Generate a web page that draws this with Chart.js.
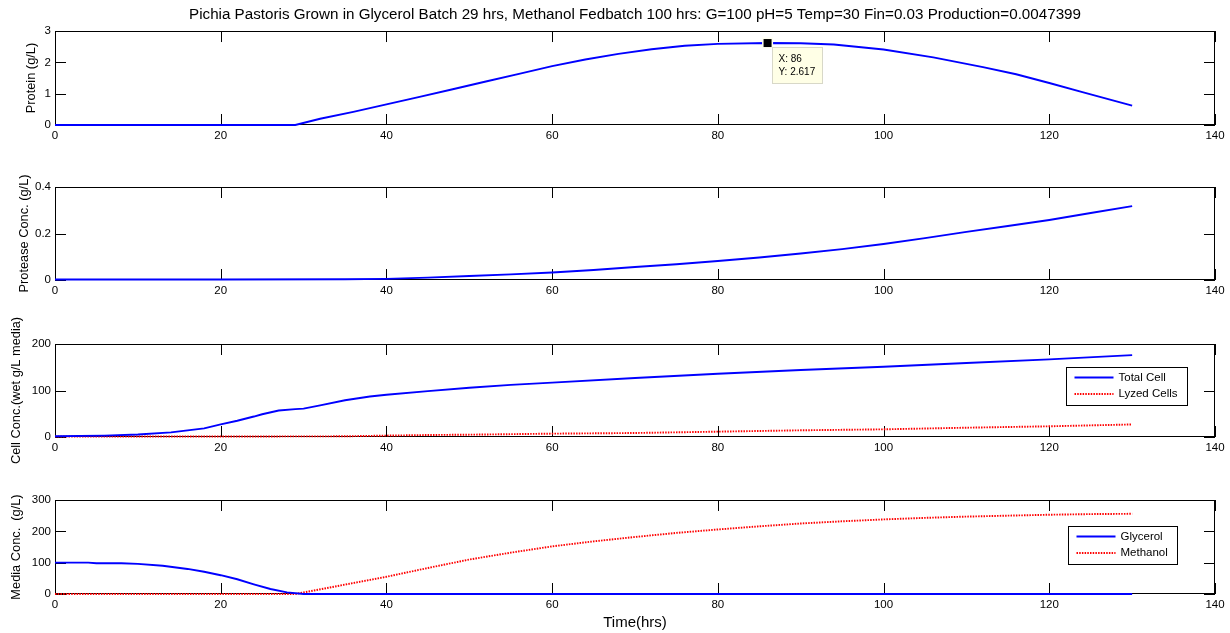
<!DOCTYPE html>
<html><head><meta charset="utf-8">
<script src="https://cdn.jsdelivr.net/npm/chart.js@4.4.0/dist/chart.umd.min.js"></script>
<style>
html,body{margin:0;padding:0;background:#fff;}
#wrap{position:relative;width:1230px;height:633px;overflow:hidden;background:#fff;}
#wrap canvas{position:absolute;left:0;}
</style></head><body><div id="wrap"></div>
<script>
// ---------------- data ----------------
const chartTitle = 'Pichia Pastoris Grown in Glycerol Batch 29 hrs, Methanol Fedbatch 100 hrs: G=100 pH=5 Temp=30 Fin=0.03 Production=0.0047399';
const xTicksMin = 0, xTicksMax = 140, xTickStep = 20;

const proteinTime = [0, 29, 32, 36, 40, 44, 48, 52, 56, 60, 64, 68, 72, 76, 80, 86, 90, 94, 100, 106, 112, 116, 120, 124, 128, 130];
const proteinConc = [0, 0, 0.2, 0.42, 0.66, 0.9, 1.14, 1.39, 1.63, 1.88, 2.09, 2.27, 2.42, 2.53, 2.59, 2.617, 2.61, 2.57, 2.41, 2.16, 1.85, 1.62, 1.34, 1.05, 0.76, 0.62];
const tipX = 86, tipY = 2.617;

const proteaseTime = [0, 20, 35, 40, 45, 50, 55, 60, 65, 70, 75, 80, 85, 90, 95, 100, 105, 110, 115, 120, 125, 130];
const proteaseConc = [0.002, 0.002, 0.003, 0.005, 0.01, 0.017, 0.024, 0.032, 0.043, 0.056, 0.068, 0.082, 0.097, 0.114, 0.133, 0.155, 0.18, 0.207, 0.232, 0.258, 0.288, 0.318];

const totalCellTime = [0, 6, 10, 14, 18, 20, 22, 24, 25, 27, 29, 30, 32, 35, 38, 40, 45, 50, 55, 60, 70, 80, 90, 100, 110, 120, 130];
const totalCell = [1.5, 3, 5.5, 10, 18.5, 27, 35, 44, 49, 57, 60, 61, 68, 79, 87, 91, 98.6, 106, 112, 117, 127, 136, 144, 151, 159, 167, 176];
const lyzedTime = [0, 20, 35, 40, 45, 50, 60, 70, 80, 90, 100, 110, 120, 130];
const lyzedCells = [1, 1, 1.5, 3, 4.3, 5, 7.2, 8.6, 11.5, 14.4, 16.5, 20, 23, 27];

const glycerolTime = [0, 4, 5, 8, 10, 13, 16, 18, 20, 22, 24, 26, 28, 30, 130];
const glycerol = [100, 100, 98, 98, 96, 90, 80, 71, 60, 47, 31, 16, 5, 0, 0];
const methanolTime = [0, 29, 35, 40, 45, 50, 55, 60, 65, 70, 75, 80, 85, 90, 95, 100, 105, 110, 115, 120, 125, 130];
const methanol = [0, 0, 30, 55, 83, 110, 132, 152, 168, 182, 195, 206, 216, 225, 232, 238, 243, 247, 250, 253, 255, 256];

// ---------------- setup ----------------
Chart.defaults.font.family = '"Liberation Sans", Arial, sans-serif';
Chart.defaults.font.size = 11.5;
Chart.defaults.color = '#000';

const PLOT_LEFT = 55, PLOT_RIGHT = 1215, GAP = 31;
function pts(xs, ys) { return xs.map((x, i) => ({x: x, y: ys[i]})); }

const matlabAxes = {
  id: 'matlabAxes',
  beforeDatasetsDraw(chart) {
    const {ctx, chartArea: a, scales: {x, y}} = chart;
    const L = 11;
    ctx.save();
    ctx.strokeStyle = '#000';
    ctx.lineWidth = 1;
    ctx.beginPath();
    x.ticks.forEach(t => {
      const px = Math.round(x.getPixelForValue(t.value)) + 0.5;
      ctx.moveTo(px, a.bottom); ctx.lineTo(px, a.bottom - L);
      ctx.moveTo(px, a.top); ctx.lineTo(px, a.top + L);
    });
    y.ticks.forEach(t => {
      const py = Math.round(y.getPixelForValue(t.value)) + 0.5;
      ctx.moveTo(a.left, py); ctx.lineTo(a.left + L, py);
      ctx.moveTo(a.right, py); ctx.lineTo(a.right - L, py);
    });
    ctx.stroke();
    ctx.strokeRect(Math.round(a.left) + 0.5, Math.round(a.top) + 0.5, Math.round(a.right - a.left) - 1, Math.round(a.bottom - a.top) - 1);
    ctx.restore();
  }
};

const inLegend = {
  id: 'inLegend',
  afterDraw(chart, args, opts) {
    if (!opts || !opts.show) return;
    const {ctx, chartArea: a} = chart;
    const ds = chart.data.datasets;
    ctx.save();
    ctx.font = '11.5px "Liberation Sans", Arial, sans-serif';
    let tw = 0;
    ds.forEach(d => { tw = Math.max(tw, ctx.measureText(d.label).width); });
    const w = 8 + 39 + 5 + tw + 10, h = 38;
    const left = Math.round(a.right - opts.right - w) + 0.5, top = Math.round(a.top + opts.top) + 0.5;
    ctx.fillStyle = '#fff';
    ctx.fillRect(left, top, w, h);
    ctx.strokeStyle = '#000'; ctx.lineWidth = 1;
    ctx.strokeRect(left, top, Math.round(w), h);
    ds.forEach((d, i) => {
      const yy = top + 10 + i * 16.5;
      ctx.beginPath();
      ctx.strokeStyle = d.borderColor; ctx.lineWidth = d.borderWidth;
      ctx.setLineDash(d.borderDash || []);
      ctx.moveTo(left + 8, yy); ctx.lineTo(left + 47, yy);
      ctx.stroke();
      ctx.setLineDash([]);
      ctx.fillStyle = '#000';
      ctx.textBaseline = 'middle';
      ctx.fillText(d.label, left + 52, yy);
    });
    ctx.restore();
  }
};

const dataTip = {
  id: 'dataTip',
  afterDatasetsDraw(chart, args, opts) {
    if (!opts || !opts.show) return;
    const {ctx, scales: {x, y}} = chart;
    const px = x.getPixelForValue(opts.x), py = y.getPixelForValue(opts.y);
    ctx.save();
    ctx.fillStyle = '#fffff0';
    ctx.fillRect(px - 5.5, py - 5.5, 11, 11);
    ctx.fillStyle = '#000';
    ctx.fillRect(px - 4, py - 4, 8, 8);
    const bx = Math.round(px + 4) + 0.5, by = Math.round(py + 4) + 0.5;
    ctx.fillStyle = '#ffffe6';
    ctx.fillRect(bx, by, 50, 36);
    ctx.strokeStyle = '#d8d8c8'; ctx.lineWidth = 1;
    ctx.strokeRect(bx, by, 50, 36);
    ctx.fillStyle = '#000';
    ctx.font = '10px "Liberation Sans", Arial, sans-serif';
    ctx.textBaseline = 'middle';
    ctx.fillText('X: ' + opts.x, bx + 6, by + 11.5);
    ctx.fillText('Y: ' + opts.y, bx + 6, by + 24.5);
    ctx.restore();
  }
};

const wrap = document.getElementById('wrap');

function makePanel(p) {
  const plotH = p.bottom - p.top;
  const xAxisH = p.xTitle ? 40 : 20;
  const H = GAP + plotH + xAxisH + (p.xTitle ? 0 : 20);
  const cv = document.createElement('canvas');
  cv.width = 1230; cv.height = H;
  cv.style.top = (p.top - GAP) + 'px';
  wrap.appendChild(cv);
  p.datasets.forEach(d => { d.clip = 4; });
  return new Chart(cv, {
    type: 'line',
    data: {datasets: p.datasets},
    options: {
      responsive: false, animation: false, devicePixelRatio: 1,
      layout: {padding: {left: 0, right: 1230 - PLOT_RIGHT, top: p.title ? 0 : GAP, bottom: H - GAP - plotH - xAxisH}},
      elements: {point: {radius: 0}, line: {tension: 0}},
      plugins: {
        legend: {display: false},
        tooltip: {enabled: false},
        title: p.title ? {display: true, text: p.title, fullSize: false, color: '#000',
          font: {size: 15.2, weight: 'normal'}, padding: {top: 6, bottom: 6.8}} : {display: false},
        inLegend: p.legend || {show: false},
        dataTip: p.tip || {show: false}
      },
      scales: {
        x: {
          type: 'linear', min: xTicksMin, max: xTicksMax,
          grid: {display: false, drawTicks: false}, border: {display: false},
          ticks: {stepSize: xTickStep, padding: 4, maxRotation: 0, autoSkip: false, font: {size: 11.5}},
          title: p.xTitle ? {display: true, text: p.xTitle, font: {size: 15}, padding: {top: 0, bottom: 2.5}} : {display: false},
          afterFit(s) { s.height = xAxisH; }
        },
        y: {
          type: 'linear', min: p.yMin, max: p.yMax,
          grid: {display: false, drawTicks: false}, border: {display: false},
          ticks: {stepSize: p.yStep, padding: 4, font: {size: 11.5}},
          title: {display: true, text: p.yTitle, font: {size: 12.8}, padding: {top: p.yTitlePad, bottom: 0}},
          afterFit(s) { s.width = PLOT_LEFT; }
        }
      }
    },
    plugins: [matlabAxes, inLegend, dataTip]
  });
}

const blue = '#0000ff', red = '#ff0000';

makePanel({
  top: 31, bottom: 125, title: chartTitle,
  yMin: 0, yMax: 3, yStep: 1, yTitle: 'Protein (g/L)', yTitlePad: 24,
  tip: {show: true, x: tipX, y: tipY},
  datasets: [{label: 'Protein', data: pts(proteinTime, proteinConc), borderColor: blue, borderWidth: 1.9}]
});
makePanel({
  top: 187, bottom: 280,
  yMin: 0, yMax: 0.4, yStep: 0.2, yTitle: 'Protease Conc. (g/L)', yTitlePad: 17,
  datasets: [{label: 'Protease', data: pts(proteaseTime, proteaseConc), borderColor: blue, borderWidth: 1.9}]
});
makePanel({
  top: 344, bottom: 437,
  yMin: 0, yMax: 200, yStep: 100, yTitle: 'Cell Conc.(wet g/L media)', yTitlePad: 9,
  legend: {show: true, right: 28, top: 23},
  datasets: [
    {label: 'Total Cell', data: pts(totalCellTime, totalCell), borderColor: blue, borderWidth: 1.9},
    {label: 'Lyzed Cells', data: pts(lyzedTime, lyzedCells), borderColor: red, borderWidth: 1.9, borderDash: [1.5, 1.2]}
  ]
});
makePanel({
  top: 500, bottom: 594, xTitle: 'Time(hrs)',
  yMin: 0, yMax: 300, yStep: 100, yTitle: 'Media Conc.  (g/L)', yTitlePad: 9,
  legend: {show: true, right: 38, top: 26},
  datasets: [
    {label: 'Glycerol', data: pts(glycerolTime, glycerol), borderColor: blue, borderWidth: 1.9},
    {label: 'Methanol', data: pts(methanolTime, methanol), borderColor: red, borderWidth: 1.9, borderDash: [1.5, 1.2]}
  ]
});
</script></body></html>
